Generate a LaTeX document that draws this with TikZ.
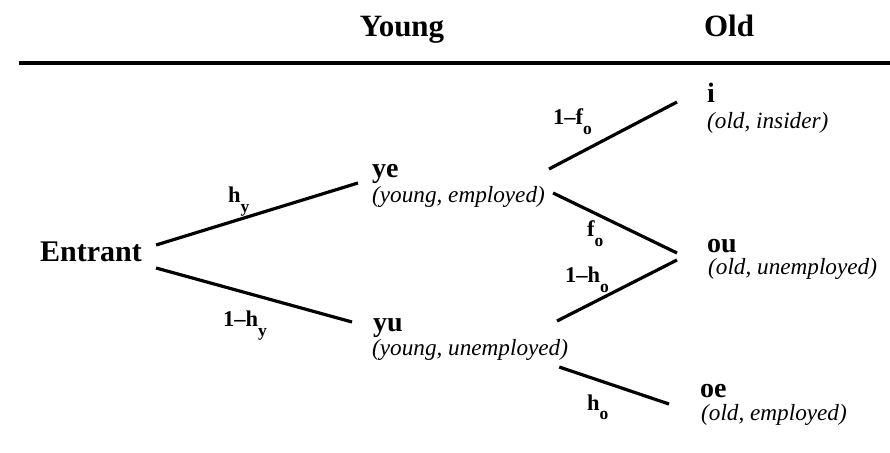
\documentclass[tikz,border=0pt]{standalone}
\usepackage{fontspec}
\setmainfont{Liberation Serif}
\usepackage{tikz}
\usetikzlibrary{calc}
\newcommand{\lowsub}[1]{\raisebox{-9.5pt}{\fontsize{17.5}{17.5}\selectfont #1}}
\tikzset{
  heading/.style={
    font=\fontsize{31}{31}\selectfont\bfseries,
    inner sep=0,
    anchor=base
  },
  state/.style={
    font=\fontsize{28}{28}\selectfont\bfseries,
    inner sep=0,
    anchor=base west
  },
  desc/.style={
    font=\fontsize{23.2}{24}\selectfont\itshape,
    inner sep=0,
    anchor=base west
  },
  prob/.style={
    font=\fontsize{22.5}{22.5}\selectfont\bfseries,
    inner sep=0,
    anchor=base west
  },
  branch/.style={
    line width=3.2pt
  }
}
\begin{document}
\begin{tikzpicture}[x=1pt,y=1pt]
    \useasboundingbox (0,0) rectangle (890,452);
    % column headings
    \node[heading] (young) at (402,415) {Young};
    \node[heading] (old) at (729,415) {Old};
    \coordinate (ruleL) at (19,388.5);
    \coordinate (ruleR) at (890,388.5);
    \draw[line width=4pt] (ruleL)--(ruleR);
    % states
    \node[state,font=\fontsize{30}{30}\selectfont\bfseries] (entrant) at (40,190) {Entrant};
    \node[state] (ye) at (372,274) {ye};
    \node[desc] (yed) at (372,249) {(young, employed)};
    \node[state] (yu) at (373,120) {yu};
    \node[desc] (yud) at (372,96) {(young, unemployed)};
    \node[state] (i) at (707,349) {i};
    \node[desc] (id) at (707,323) {(old, insider)};
    \node[state] (ou) at (707,199) {ou};
    \node[desc] (oud) at (708,177) {(old, unemployed)};
    \node[state] (oe) at (700,55) {oe};
    \node[desc] (oed) at (701,32) {(old, employed)};
    % branches
    \draw[branch] ([shift={(14,17)}]entrant.base east)--([shift={(-14,-5)}]ye.base west);
    \draw[branch] ([shift={(14,-6)}]entrant.base east)--([shift={(-21,10)}]yu.base west);
    \draw[branch] ([shift={(177,9)}]ye.base west)--([shift={(-30,1)}]i.base west);
    \draw[branch] ([shift={(8,10)}]yed.base east)--([shift={(-30,0)}]ou.base west);
    \draw[branch] ([shift={(184,11)}]yu.base west)--([shift={(-30,-7)}]ou.base west);
    \draw[branch] ([shift={(-9,-11)}]yud.base east)--([shift={(-31,-7)}]oe.base west);
    % probabilities
    \node[prob] (hy) at (228,249) {h\lowsub{y}};
    \node[prob] (nhy) at (223,125) {1\textendash h\lowsub{y}};
    \node[prob] (nfo) at (553,327) {1\textendash f\lowsub{o}};
    \node[prob] (fo) at (587,215) {f\lowsub{o}};
    \node[prob] (nho) at (565,169) {1\textendash h\lowsub{o}};
    \node[prob] (ho) at (587,42) {h\lowsub{o}};
\end{tikzpicture}
\end{document}
